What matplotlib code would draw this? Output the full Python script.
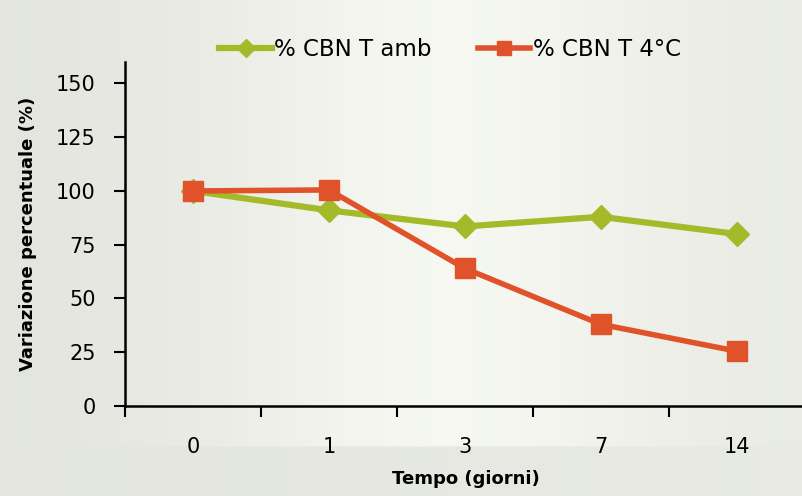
import matplotlib.pyplot as plt
import numpy as np

days = ['0', '1', '3', '7', '14']
cbn_amb = [100, 91, 83.5, 88, 80]
cbn_4c = [100, 100.5, 64, 38, 25.5]

green = '#a4ba2a'
red = '#e0532a'

fig = plt.figure(figsize=(8.03, 4.96), dpi=100)
fig.patch.set_facecolor('#e9ece7')

# soft background, a rough stand-in for the blurred photo
bg = fig.add_axes([0, 0, 1, 1], zorder=0)
yy, xx = np.mgrid[0:1:200j, 0:1:300j]
shade = 0.90 + 0.06 * np.exp(-((xx - 0.55) ** 2) / 0.08) * (yy < 0.9) + 0.02 * xx
img = np.dstack([shade * 0.99, shade * 1.0, shade * 0.97])
bg.imshow(np.clip(img, 0, 1), extent=[0, 1, 0, 1], aspect='auto', origin='upper')
bg.axis('off')

ax = fig.add_axes([0.1557, 0.1815, 0.848, 0.6935], zorder=1)
ax.patch.set_alpha(0)

x = np.arange(len(days))
ax.plot(x, cbn_amb, color=green, lw=4.5, marker='D', ms=12, label='% CBN T amb')
ax.plot(x, cbn_4c, color=red, lw=4, marker='s', ms=14, label='% CBN T 4°C')

ax.set_xlim(-0.5, 4.51)
ax.set_ylim(0, 160)
ax.set_yticks([0, 25, 50, 75, 100, 125, 150])
ax.set_xticks(x)
ax.set_xticklabels(days)
ax.set_xticks(np.arange(-0.5, 4.6, 1), minor=True)
ax.tick_params(axis='x', which='major', length=0, pad=22, labelsize=15)
ax.tick_params(axis='x', which='minor', length=8, width=1.5, direction='out')
ax.tick_params(axis='y', length=8, width=1.5, direction='out', labelsize=15, pad=13)

for s in ['top', 'right']:
    ax.spines[s].set_visible(False)
for s in ['left', 'bottom']:
    ax.spines[s].set_linewidth(1.8)

ax.set_xlabel('Tempo (giorni)', fontsize=13, fontweight='bold', labelpad=10)
ax.set_ylabel('Variazione percentuale (%)', fontsize=13, fontweight='bold', labelpad=14)

ax.legend(loc='center', bbox_to_anchor=(0.477, 1.035), ncol=2, frameon=False,
          fontsize=16.5, handlelength=2.3, handletextpad=0.1, columnspacing=2.0,
          markerscale=0.75)

fig.savefig('out.png', dpi=100)
